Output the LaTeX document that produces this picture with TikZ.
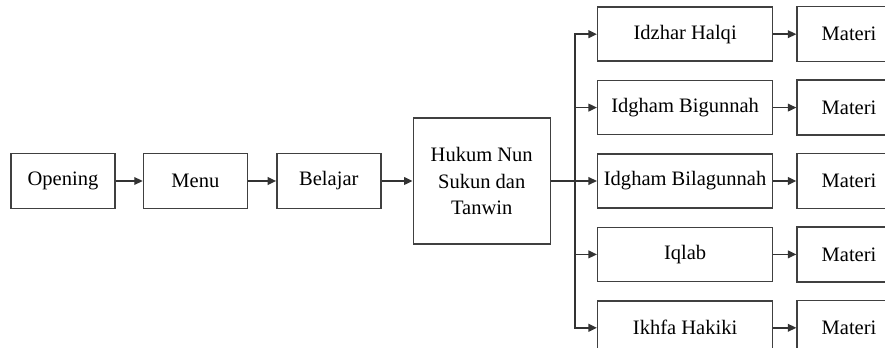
\documentclass[tikz,border=0pt]{standalone}
\usepackage{fontspec}
\setmainfont{Liberation Serif}
\usepackage{tikz}
\usetikzlibrary{arrows.meta,positioning}

\begin{document}
\begin{tikzpicture}[
  >=Stealth,
  every node/.style={font=\fontsize{14.6}{19}\selectfont},
  flowbox/.style={rectangle, draw=black!75, line width=1pt,
    minimum height=1.375cm, minimum width=2.6cm, align=center, inner sep=1pt},
  bigbox/.style={flowbox, minimum height=3.15cm, minimum width=3.425cm},
  rulebox/.style={flowbox, minimum height=1.35cm, minimum width=4.375cm},
  arr/.style={-{Triangle[length=6pt,width=5.5pt]}, line width=1pt, draw=black!80},
]

% page frame
\useasboundingbox (0,0) rectangle (22.125,-8.7);
\clip (0,0) rectangle (22.125,-8.7);

% Main chain
\node[flowbox] (opening) at (1.575,-4.525) {Opening};
\node[flowbox, right=0.675cm of opening] (menu) {Menu};
\node[flowbox, right=0.7cm of menu] (belajar) {Belajar};
\node[bigbox, right=0.775cm of belajar] (hukum) {Hukum Nun\\ Sukun dan\\ Tanwin};

% Rule boxes
\node[rulebox, right=1.15cm of hukum] (bila) {Idgham Bilagunnah};
\node[rulebox, above=0.45cm of bila] (bigun) {Idgham Bigunnah};
\node[rulebox, above=0.45cm of bigun] (idzhar) {Idzhar Halqi};
\node[rulebox, below=0.45cm of bila] (iqlab) {Iqlab};
\node[rulebox, below=0.45cm of iqlab] (ikhfa) {Ikhfa Hakiki};

% Materi boxes
\node[flowbox, right=0.575cm of idzhar] (mat1) {Materi};
\node[flowbox, right=0.575cm of bigun] (mat2) {Materi};
\node[flowbox, right=0.575cm of bila] (mat3) {Materi};
\node[flowbox, right=0.575cm of iqlab] (mat4) {Materi};
\node[flowbox, right=0.575cm of ikhfa] (mat5) {Materi};

% Arrows
\draw[arr] (opening) -- (menu);
\draw[arr] (menu) -- (belajar);
\draw[arr] (belajar) -- (hukum);

\coordinate[right=0.6cm of hukum.east] (split);
\draw[line width=1pt, draw=black!80] (hukum.east) -- (split);
\draw[arr] (split) |- (idzhar.west);
\draw[arr] (split) |- (bigun.west);
\draw[arr] (split) -- (bila.west);
\draw[arr] (split) |- (iqlab.west);
\draw[arr] (split) |- (ikhfa.west);

\draw[arr] (idzhar) -- (mat1);
\draw[arr] (bigun) -- (mat2);
\draw[arr] (bila) -- (mat3);
\draw[arr] (iqlab) -- (mat4);
\draw[arr] (ikhfa) -- (mat5);

\end{tikzpicture}
\end{document}
